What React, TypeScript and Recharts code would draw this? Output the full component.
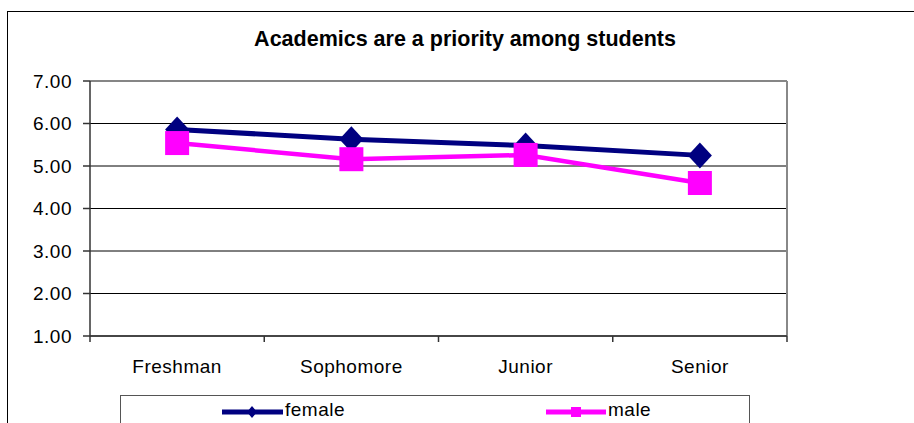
import React from 'react';
import { LineChart, Line, XAxis, YAxis, CartesianGrid, Legend, ReferenceLine } from 'recharts';

const categories = ['Freshman', 'Sophomore', 'Junior', 'Senior'];
const femaleValues = [5.86, 5.63, 5.48, 5.25];
const maleValues = [5.54, 5.16, 5.26, 4.6];
const yTicks = [1, 2, 3, 4, 5, 6, 7];
const title = 'Academics are a priority among students';

const data = categories.map((c, i) => ({ category: c, female: femaleValues[i], male: maleValues[i] }));

const FONT = "'Liberation Sans', Arial, sans-serif";
const NAVY = '#000080';
const MAGENTA = '#FF00FF';
const AXIS = '#333';

const Diamond = (props: any) => {
  const { cx, cy } = props;
  if (cx == null || cy == null) return null;
  return (
    <polygon
      key={`d-${props.index}`}
      points={`${cx},${cy - 13} ${cx + 12},${cy} ${cx},${cy + 13} ${cx - 12},${cy}`}
      fill={NAVY}
    />
  );
};

const Square = (props: any) => {
  const { cx, cy } = props;
  if (cx == null || cy == null) return null;
  return <rect key={`s-${props.index}`} x={cx - 12} y={cy - 12} width={24} height={24} fill={MAGENTA} />;
};

const CategoryTick = (props: any) => {
  const { x, y, payload, index, width, visibleTicksCount } = props;
  const count = visibleTicksCount || categories.length;
  const half = width / count / 2;
  return (
    <g>
      <line x1={x - half} x2={x - half} y1={y} y2={y + 6} stroke={AXIS} strokeWidth={1.5} />
      {index === count - 1 ? (
        <line x1={x + half} x2={x + half} y1={y} y2={y + 6} stroke={AXIS} strokeWidth={1.5} />
      ) : null}
      <text
        x={x}
        y={y + 24}
        dy="0.71em"
        textAnchor="middle"
        fill="#000"
        fontFamily={FONT}
        fontSize={19}
        letterSpacing={0.5}
      >
        {payload.value}
      </text>
    </g>
  );
};

const LegendContent = () => (
  <div
    style={{
      position: 'relative',
      width: 630,
      height: 40,
      border: '1px solid #555',
      boxSizing: 'border-box',
      fontFamily: FONT,
      fontSize: 19,
      letterSpacing: 0.5,
      color: '#000',
      background: '#fff',
    }}
  >
    <svg style={{ position: 'absolute', left: 100, top: 8 }} width={64} height={16}>
      <line x1={1} x2={62} y1={8} y2={8} stroke={NAVY} strokeWidth={5} />
      <polygon points="31,2 36,8 31,14 26,8" fill={NAVY} />
    </svg>
    <span style={{ position: 'absolute', left: 164, top: 3, whiteSpace: 'nowrap' }}>female</span>
    <svg style={{ position: 'absolute', left: 424, top: 8 }} width={64} height={16}>
      <line x1={1} x2={61} y1={8} y2={8} stroke={MAGENTA} strokeWidth={5} />
      <rect x={26} y={3} width={10} height={10} fill={MAGENTA} />
    </svg>
    <span style={{ position: 'absolute', left: 487, top: 3, whiteSpace: 'nowrap' }}>male</span>
  </div>
);

export default function App() {
  return (
    <div style={{ position: 'relative', width: 914, height: 423, overflow: 'hidden', background: '#fff' }}>
      <style>{'html,body{margin:0;padding:0;overflow:hidden;background:#fff}'}</style>
      <div
        style={{
          position: 'absolute',
          left: 7,
          top: 11,
          width: 1000,
          height: 1000,
          border: '1px solid #000',
        }}
      />
      <div
        style={{
          position: 'absolute',
          left: 0,
          width: 930,
          top: 27,
          textAlign: 'center',
          fontFamily: FONT,
          fontWeight: 'bold',
          fontSize: 21.5,
          color: '#000',
          whiteSpace: 'nowrap',
        }}
      >
        {title}
      </div>
      <LineChart
        width={914}
        height={423}
        data={data}
        margin={{ top: 81, right: 127, left: 20, bottom: 47 }}
      >
        <CartesianGrid vertical={false} stroke="#000" strokeWidth={1} />
        <ReferenceLine y={7} stroke="#888" strokeWidth={1.5} />
        <ReferenceLine x="Senior" position="end" stroke="#888" strokeWidth={2} />
        <XAxis
          dataKey="category"
          scale="band"
          tickLine={false}
          tickSize={0}
          tickMargin={0}
          height={40}
          axisLine={{ stroke: AXIS, strokeWidth: 1.5 }}
          tick={<CategoryTick />}
          interval={0}
        />
        <YAxis
          domain={[1, 7]}
          ticks={yTicks}
          width={70}
          tickSize={7}
          tickMargin={11}
          tickFormatter={(v: number) => v.toFixed(2)}
          tickLine={{ stroke: AXIS, strokeWidth: 1.5 }}
          axisLine={{ stroke: AXIS, strokeWidth: 1.5 }}
          tick={{ fill: '#000', fontFamily: FONT, fontSize: 19, letterSpacing: 0.5 }}
          interval={0}
          allowDataOverflow
        />
        <Legend
          layout="horizontal"
          verticalAlign="middle"
          align="center"
          content={<LegendContent />}
          wrapperStyle={{ left: 120, top: 395, width: 630, height: 40 }}
        />
        <Line
          dataKey="female"
          stroke={NAVY}
          strokeWidth={5}
          dot={<Diamond />}
          activeDot={false}
          isAnimationActive={false}
        />
        <Line
          dataKey="male"
          stroke={MAGENTA}
          strokeWidth={4.5}
          dot={<Square />}
          activeDot={false}
          isAnimationActive={false}
        />
      </LineChart>
    </div>
  );
}
